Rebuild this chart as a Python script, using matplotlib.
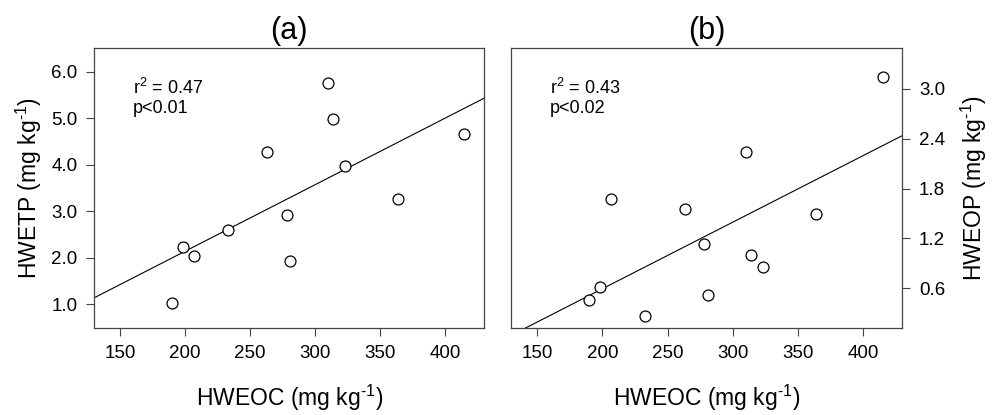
import numpy as np
import matplotlib
matplotlib.use('Agg')
import matplotlib.pyplot as plt

plt.rcParams['font.family'] = ['Liberation Sans', 'DejaVu Sans']
plt.rcParams['mathtext.fontset'] = 'custom'
plt.rcParams['mathtext.rm'] = 'Liberation Sans'
plt.rcParams['mathtext.default'] = 'regular'

# data
hweoc = [190, 198, 207, 233, 263, 278, 281, 310, 314, 323, 364, 415]
hwetp = [1.03, 2.23, 2.03, 2.59, 4.26, 2.92, 1.93, 5.75, 4.99, 3.96, 3.26, 4.66]
hweop = [0.46, 0.61, 1.67, 0.26, 1.55, 1.13, 0.52, 2.24, 1.00, 0.86, 1.50, 3.15]

xticks = [150, 200, 250, 300, 350, 400]
yticks_a = [1.0, 2.0, 3.0, 4.0, 5.0, 6.0]
yticks_b = [0.6, 1.2, 1.8, 2.4, 3.0]

unit = '(mg kg$^{\u2010 1}$)'.replace(' 1', '1')

fig = plt.figure(figsize=(9.95, 4.15), dpi=100)
ax1 = fig.add_axes([0.0948, 0.2089, 0.3916, 0.6747])
ax2 = fig.add_axes([0.5136, 0.2089, 0.3933, 0.6747])

panels = [
    (ax1, hwetp, yticks_a, (0.48, 6.5), '(a)', 'HWETP ' + unit, '$r^2$ = 0.47\np<0.01', 'left'),
    (ax2, hweop, yticks_b, (0.117, 3.49), '(b)', 'HWEOP ' + unit, '$r^2$ = 0.43\np<0.02', 'right'),
]

for ax, y, yt, ylim, title, ylab, note, side in panels:
    ax.scatter(hweoc, y, s=62, facecolors='white', edgecolors='black', linewidths=0.9, zorder=3)
    k, b = np.polyfit(hweoc, y, 1)
    xx = np.array([130, 430])
    ax.plot(xx, k * xx + b, color='black', lw=0.8)
    ax.set_xlim(130, 430)
    ax.set_ylim(*ylim)
    ax.set_xticks(xticks)
    ax.set_yticks(yt)
    ax.set_yticklabels([f'{v:.1f}' for v in yt])
    ax.tick_params(direction='out', length=6, width=0.8, labelsize=13.5, color='#444444', pad=6)
    for s in ax.spines.values():
        s.set_color('#444444')
        s.set_linewidth(0.9)
    if side == 'right':
        ax.yaxis.tick_right()
        ax.yaxis.set_label_position('right')
        ax.set_ylabel(ylab, fontsize=16.5, labelpad=10)
    else:
        ax.set_ylabel(ylab, fontsize=16.5, labelpad=5)
    ax.set_xlabel('HWEOC ' + unit, fontsize=16.5, labelpad=15)
    ax.set_title(title, fontsize=22, pad=7)
    ax.text(0.1, 0.895, note, transform=ax.transAxes, fontsize=13, va='top', linespacing=1.15)

plt.savefig('out.png', dpi=100)
